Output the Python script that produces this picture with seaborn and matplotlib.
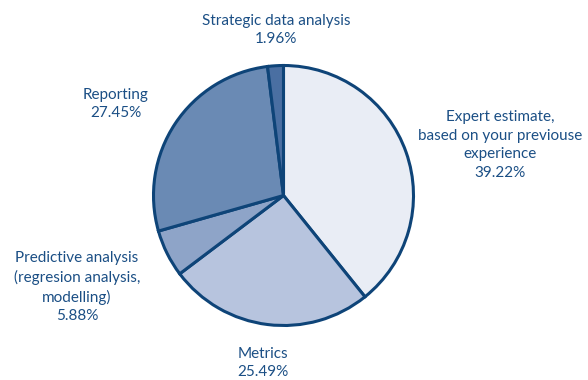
import matplotlib
matplotlib.use("Agg")
import matplotlib.pyplot as plt
import seaborn as sns

labels = ["Expert estimate,\nbased on your previouse\nexperience",
          "Metrics",
          "Predictive analysis\n(regresion analysis,\nmodelling)",
          "Reporting",
          "Strategic data analysis"]
shares = [39.22, 25.49, 5.88, 27.45, 1.96]
colors = ["#e9edf5", "#b7c4de", "#8ea4c8", "#6a8ab4", "#4a6fa2"]

# label anchor points in pixel space (x, y from top)
label_pos = [(500, 145), (263, 363), (77, 287), (116, 104), (276, 30)]

sns.set_theme(style="white")
plt.rcParams["font.family"] = ["Lato", "DejaVu Sans"]

fig = plt.figure(figsize=(5.88, 3.8), dpi=100)
ax = fig.add_axes([0, 0, 1, 1])
ax.set_xlim(0, 588)
ax.set_ylim(0, 380)
ax.set_aspect("equal")
ax.axis("off")

ax.pie(shares, colors=colors, startangle=90, counterclock=False,
       center=(283.5, 380 - 195.5), radius=130,
       wedgeprops=dict(edgecolor="#0e4478", linewidth=2.2))

text_color = "#1b4f85"
for lab, val, (x, y) in zip(labels, shares, label_pos):
    ax.text(x, 380 - y, f"{lab}\n{val:.2f}%", ha="center", va="center",
            fontsize=11, color=text_color, linespacing=1.42)

ax.set_xlim(0, 588)
ax.set_ylim(0, 380)
fig.savefig("out.png", dpi=100)
